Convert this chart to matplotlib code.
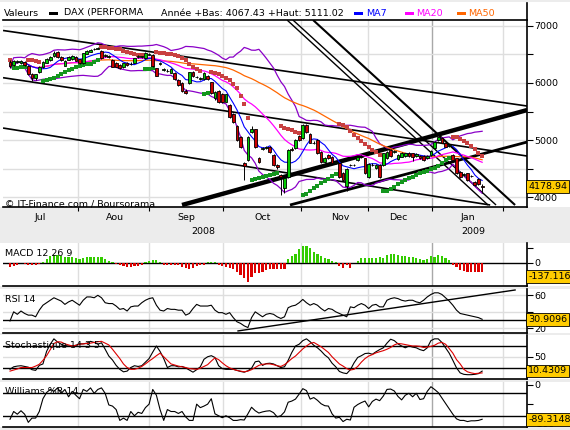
import numpy as np
import pandas as pd
import matplotlib
matplotlib.use('Agg')
import matplotlib.pyplot as plt
from matplotlib.patches import Rectangle
from matplotlib.lines import Line2D
import matplotlib.transforms as mtrans

# ---- DAX daily candles (jul 2008 - jan 2009) ----
opn = [6374, 6316, 6370, 6345, 6374, 6304, 6152, 6094, 6187, 6275,
       6357, 6404, 6474, 6550, 6450, 6304, 6404, 6415, 6462, 6415,
       6345, 6509, 6550, 6595, 6605, 6567, 6478, 6458, 6404, 6345,
       6316, 6275, 6357, 6325, 6357, 6458, 6460, 6433, 6498, 6491,
       6257, 6338, 6233, 6208, 6181, 6181, 6053, 5994, 5866, 5994,
       6199, 6098, 6078, 6065, 6129, 6012, 5731, 5866, 5807, 5673,
       5614, 5456, 5240, 5059, 4591, 4649, 5146, 5187, 4680, 4848,
       4854, 4883, 4737, 4562, 4380, 4150, 4345, 4840, 4854, 5070,
       5029, 5264, 5100, 4948, 5000, 4796, 4620, 4737, 4708, 4598,
       4591, 4420, 4200, 4558, 4558, 4649, 4698, 4679, 4357, 4560,
       4515, 4562, 4562, 4679, 4825, 4794, 4661, 4708, 4720, 4778,
       4766, 4720, 4720, 4720, 4679, 4737, 4854, 4999, 5029, 4942,
       4898, 4737, 4679, 4445, 4388, 4415, 4367, 4269, 4310, 4195]
close = [6290, 6392, 6385, 6392, 6316, 6158, 6082, 6152, 6275, 6374,
         6421, 6450, 6532, 6450, 6404, 6392, 6462, 6474, 6392, 6345,
         6521, 6567, 6579, 6602, 6612, 6433, 6484, 6464, 6287, 6287,
         6257, 6345, 6316, 6332, 6433, 6462, 6464, 6521, 6502, 6298,
         6129, 6342, 6237, 6212, 6240, 6065, 5965, 5866, 5830, 6187,
         6123, 6102, 6082, 6170, 6065, 5819, 5848, 5673, 5667, 5801,
         5398, 5322, 5000, 4883, 4550, 5059, 5199, 4883, 4620, 4852,
         4883, 4790, 4562, 4520, 4345, 4330, 4825, 4830, 4995, 5000,
         5260, 5146, 4953, 4952, 4766, 4620, 4680, 4679, 4591, 4602,
         4357, 4300, 4500, 4562, 4562, 4708, 4702, 4415, 4579, 4564,
         4562, 4357, 4766, 4796, 4720, 4798, 4737, 4778, 4766, 4720,
         4708, 4750, 4679, 4650, 4720, 4813, 4971, 5047, 4953, 4883,
         4902, 4649, 4427, 4357, 4392, 4298, 4371, 4211, 4228, 4179]
high = [6400, 6410, 6400, 6405, 6390, 6320, 6170, 6165, 6290, 6385,
        6435, 6465, 6560, 6560, 6470, 6400, 6475, 6490, 6480, 6425,
        6530, 6580, 6590, 6620, 6625, 6580, 6510, 6490, 6415, 6360,
        6330, 6355, 6370, 6360, 6445, 6490, 6480, 6535, 6525, 6505,
        6270, 6360, 6260, 6240, 6255, 6195, 6065, 6010, 5890, 6200,
        6215, 6130, 6110, 6185, 6140, 6025, 5865, 5880, 5830, 5815,
        5630, 5470, 5260, 5075, 4620, 5075, 5240, 5200, 4700, 4880,
        4900, 4900, 4750, 4580, 4400, 4345, 4840, 4870, 5010, 5085,
        5275, 5280, 5115, 4980, 5015, 4810, 4695, 4750, 4720, 4630,
        4605, 4435, 4515, 4585, 4580, 4720, 4730, 4690, 4595, 4590,
        4575, 4575, 4780, 4810, 4840, 4820, 4750, 4790, 4780, 4790,
        4780, 4765, 4735, 4735, 4735, 4825, 4985, 5060, 5045, 4955,
        4930, 4750, 4690, 4460, 4415, 4430, 4395, 4285, 4325, 4230]
low = [6270, 6300, 6350, 6330, 6300, 6140, 6040, 6060, 6170, 6260,
       6345, 6390, 6460, 6440, 6390, 6290, 6395, 6405, 6380, 6330,
       6340, 6500, 6540, 6580, 6590, 6420, 6460, 6440, 6275, 6275,
       6245, 6265, 6300, 6310, 6345, 6440, 6430, 6420, 6485, 6285,
       6115, 6320, 6215, 6190, 6170, 6050, 5950, 5850, 5810, 5980,
       6110, 6080, 6060, 6050, 6050, 5800, 5710, 5655, 5650, 5660,
       5380, 5300, 4980, 4860, 4300, 4630, 5120, 4860, 4600, 4830,
       4840, 4770, 4540, 4500, 4035, 4070, 4330, 4800, 4840, 4985,
       5015, 5130, 4940, 4930, 4750, 4600, 4605, 4660, 4575, 4580,
       4340, 4285, 4100, 4540, 4540, 4635, 4680, 4400, 4340, 4540,
       4500, 4340, 4550, 4665, 4705, 4775, 4645, 4695, 4705, 4705,
       4625, 4705, 4665, 4635, 4665, 4720, 4840, 4985, 4940, 4870,
       4880, 4635, 4410, 4340, 4370, 4280, 4350, 4195, 4210, 4067]

# ---- indicator panels ----
macd_hist = [-40, -30, -25, -5, -10, -20, -20, -20, -15, 10,
             40, 70, 84, 84, 70, 62, 59, 59, 55, 42,
             52, 59, 59, 59, 59, 58, 45, 22, 11, -10,
             -22, -31, -37, -37, -29, -26, -22, 5, 22, 29,
             26, 11, -18, -22, -25, -25, -25, -37, -48, -60,
             -50, -33, -25, -20, 5, 11, 10, -22, -33, -37,
             -48, -62, -95, -125, -155, -190, -140, -106, -106, -95,
             -70, -62, -62, -62, -62, -62, 40, 66, 95, 140,
             175, 168, 150, 115, 90, 70, 48, 40, 25, 5,
             -33, -48, -25, -55, -5, 18, 51, 53, 51, 51,
             55, 62, 55, 77, 92, 92, 84, 70, 66, 62,
             62, 51, 40, 33, 40, 70, 59, 80, 70, 55,
             30, -18, -40, -70, -80, -88, -95, -95, -88, -88]
rsi = [29, 40, 37, 41, 38, 36, 36, 34, 42, 48,
       51, 54, 57, 55, 53, 49, 52, 54, 51, 48,
       54, 58, 58, 57, 60, 57, 51, 50, 50, 47,
       43, 44, 41, 46, 47, 47, 51, 54, 56, 57,
       48, 42, 41, 44, 43, 43, 42, 42, 36, 38,
       44, 49, 47, 47, 47, 48, 42, 39, 39, 37,
       39, 33, 28, 26, 23, 21, 33, 40, 37, 34,
       37, 38, 37, 34, 32, 34, 45, 47, 48, 51,
       55, 51, 48, 50, 48, 44, 41, 44, 43, 40,
       38, 36, 34, 46, 45, 48, 50, 48, 44, 48,
       49, 46, 46, 54, 56, 57, 56, 54, 53, 54,
       54, 52, 51, 54, 58, 61, 63, 63, 61, 57,
       53, 48, 42, 38, 37, 36, 35, 34, 33, 31]
stoch_k = [15, 22, 24, 25, 23, 21, 14, 12, 26, 30,
           65, 85, 100, 91, 85, 81, 80, 80, 82, 86,
           86, 88, 93, 90, 85, 89, 71, 52, 41, 26,
           15, 8, 10, 20, 25, 23, 25, 35, 45, 63,
           80, 65, 45, 20, 25, 25, 22, 23, 19, 13,
           7, 14, 22, 43, 50, 53, 48, 25, 17, 15,
           15, 15, 12, 9, 7, 11, 18, 36, 38, 26,
           31, 32, 30, 25, 20, 22, 40, 62, 80, 85,
           95, 100, 92, 82, 75, 66, 55, 47, 32, 22,
           9, 5, 3, 14, 33, 48, 53, 59, 60, 57,
           64, 70, 75, 88, 99, 95, 86, 80, 75, 80,
           77, 75, 70, 67, 75, 95, 100, 100, 90, 75,
           60, 40, 19, 5, 1, 0, 0, 1, 3, 10]
stoch_d = [10, 13, 16, 20, 20, 20, 20, 24, 29, 40,
           53, 70, 87, 92, 91, 86, 83, 80, 82, 85,
           86, 87, 88, 90, 92, 93, 88, 83, 71, 58,
           45, 30, 20, 15, 15, 18, 23, 30, 38, 45,
           53, 60, 50, 40, 30, 27, 24, 22, 20, 17,
           16, 15, 18, 23, 28, 38, 47, 42, 33, 25,
           19, 15, 12, 10, 8, 10, 14, 20, 26, 29,
           30, 30, 28, 25, 23, 28, 36, 45, 52, 62,
           72, 80, 87, 90, 84, 78, 70, 62, 50, 40,
           30, 24, 17, 13, 15, 23, 35, 45, 52, 56,
           61, 64, 67, 71, 76, 83, 87, 86, 84, 82,
           80, 80, 79, 76, 77, 79, 82, 88, 90, 85,
           73, 60, 42, 30, 15, 8, 5, 3, 4, 5]
williams = [-89, -69, -76, -67, -76, -97, -86, -86, -69, -36,
            -20, -12, -17, -8, -22, -12, -31, -17, -27, -36,
            -12, -17, -8, -22, -12, -8, -22, -52, -55, -64,
            -92, -86, -92, -69, -80, -71, -74, -59, -50, -12,
            -27, -64, -92, -64, -69, -69, -74, -69, -83, -92,
            -92, -50, -59, -55, -50, -36, -75, -80, -85, -80,
            -85, -92, -92, -90, -91, -75, -58, -67, -73, -70,
            -68, -67, -72, -83, -80, -70, -45, -42, -37, -24,
            -10, -15, -37, -33, -40, -49, -54, -55, -75, -86,
            -84, -95, -89, -91, -58, -51, -46, -42, -57, -43,
            -37, -41, -29, -12, -11, -16, -30, -39, -27, -22,
            -31, -22, -38, -36, -17, -5, -12, -20, -34, -48,
            -62, -76, -88, -92, -92, -95, -93, -93, -92, -89]

months = ['Jul', 'Aou', 'Sep', 'Oct', 'Nov', 'Dec', 'Jan']
years = ['2008', '2009']
last_labels = ['4178.94', '-137.116', '30.9096', '10.4309', '-89.3148']

# hand drawn trend lines (bar index, price)
trend_main = [((-1.9, 6921), (141.3, 5596), 1.2),
              ((-1.9, 6093), (141.3, 4719), 1.2),
              ((-1.9, 5210), (131.2, 3860), 1.2),
              ((47.0, 3860), (141.3, 5526), 3.2),
              ((76.5, 3860), (141.3, 4965), 2.0),
              ((75.7, 7105), (130.6, 3860), 1.0),
              ((77.3, 7105), (132.8, 3860), 1.0),
              ((82.8, 7105), (138.0, 3860), 1.5)]
trend_rsi = ((62.3, 16.9), (138.0, 66.4))

# layout helpers (pixel positions of the original picture)
W, H = 570, 430
X0 = 10.0
DX = 3.66
FS = 6.8
def ix(px):
  return (px - X0) / DX

grid_px = [78, 149, 223, 301, 368, 432, 503]
month_px = [40, 115, 186, 263, 340, 398, 468]
year_px = [203, 473]
grid_x = [ix(p) for p in grid_px]
xlim = (ix(3), ix(527))

o = np.array(opn, float); c = np.array(close, float)
h = np.array(high, float); l = np.array(low, float)
n = len(c)
x = np.arange(n)
cs = pd.Series(c)

ma7 = cs.rolling(7, min_periods=1).mean()
ma20 = cs.rolling(20, min_periods=1).mean()
ma50 = cs.rolling(50, min_periods=1).mean()
sd20 = cs.rolling(20, min_periods=1).std(ddof=0)
bb_up = ma20 + 2 * sd20
bb_dn = ma20 - 2 * sd20

# parabolic SAR
sar = np.zeros(n); bull = np.zeros(n, bool)
up = False; af = 0.02; ep = l[0]; sar[0] = h[0]
for i in range(1, n):
  s = sar[i-1] + af * (ep - sar[i-1])
  if up:
    s = min(s, l[i-1], l[max(i-2, 0)])
    if l[i] < s:
      up = False; s = ep; ep = l[i]; af = 0.02
    elif h[i] > ep:
      ep = h[i]; af = min(af + 0.02, 0.2)
  else:
    s = max(s, h[i-1], h[max(i-2, 0)])
    if h[i] > s:
      up = True; s = ep; ep = h[i]; af = 0.02
    elif l[i] < ep:
      ep = l[i]; af = min(af + 0.02, 0.2)
  sar[i] = s; bull[i] = up

hist = np.array(macd_hist, float)

# ---- figure ----
BG = '#ececec'
plt.rcParams['font.family'] = 'DejaVu Sans'
fig = plt.figure(figsize=(W/100, H/100), dpi=100, facecolor=BG)

def white_band(top, bottom):
  fig.patches.append(Rectangle((0, 1 - bottom/H), 1, (bottom - top)/H, transform=fig.transFigure,
                               fc='white', ec='none', zorder=-5))

def add_panel(top, bottom):
  white_band(top, bottom)
  ax = fig.add_axes([3/W, 1 - bottom/H, 524/W, (bottom - top)/H])
  ax.set_facecolor('white')
  ax.set_xlim(*xlim)
  for s in ['left', 'top']:
    ax.spines[s].set_visible(False)
  for s in ['right', 'bottom']:
    ax.spines[s].set_color('black'); ax.spines[s].set_linewidth(1.2)
  ax.yaxis.tick_right()
  ax.tick_params(axis='y', direction='out', length=4, width=0.8, labelsize=FS, pad=1)
  ax.set_xticks([])
  for gx, px in zip(grid_x, grid_px):
    col = '#a8a8a8' if px == 432 else '#dedede'
    ax.axvline(gx, color=col, lw=1, zorder=0)
  return ax

# legend row background
white_band(2, 20)

# main price panel
ax = add_panel(20, 207)
ax.spines['top'].set_visible(True); ax.spines['top'].set_linewidth(1.2)
ax.set_ylim(3825, 7105)
ax.set_yticks([4000, 5000, 6000, 7000])
ax.set_yticks([4500, 5500, 6500], minor=True)
ax.tick_params(axis='y', which='minor', direction='out', length=4, width=0.8)
ax.set_yticklabels(['4000', '5000', '6000', '7000'])
for v in np.arange(4000, 7001, 500):
  ax.axhline(v, color='#dedede', lw=1, zorder=0)
ax.set_xticks(grid_x)
ax.tick_params(axis='x', direction='out', length=3, width=0.8, labelbottom=False)

for (p0, p1, lw) in trend_main:
  ax.plot([p0[0], p1[0]], [p0[1], p1[1]], color='black', lw=lw, zorder=2, solid_capstyle='butt')

ax.plot(x, bb_up, color='#8a00c8', lw=0.9, zorder=3)
ax.plot(x, bb_dn, color='#8a00c8', lw=0.9, zorder=3)
ax.plot(x, ma50, color='#ff6600', lw=0.9, zorder=3)
ax.plot(x, ma20, color='#ff00ff', lw=0.9, zorder=3)
ax.plot(x, ma7, color='#0000ff', lw=0.8, zorder=3)

ax.plot(x[~bull], sar[~bull], 's', color='#c84040', ms=3.0, mew=0, zorder=4)
ax.plot(x[bull], sar[bull], 's', color='#14961e', ms=3.0, mew=0, zorder=4)

ax.vlines(x, l, h, color='black', lw=0.7, zorder=5)
body_lo = np.minimum(o, c)
body_h = np.maximum(np.abs(c - o), 8)
cols = np.where(c >= o, '#00cc00', '#cc0000')
ax.bar(x, body_h, bottom=body_lo, width=0.75, color=cols, edgecolor='black', lw=0.6, zorder=6)

ax.text(ix(5), 3880, '\u00a9 IT-Finance.com / Boursorama', fontsize=FS, ha='left', va='center', zorder=7)
ax.text(1.002, c[-1], last_labels[0], transform=mtrans.blended_transform_factory(ax.transAxes, ax.transData),
        fontsize=FS, ha='left', va='center',
        bbox=dict(boxstyle='square,pad=0.2', fc='#ffcc00', ec='black', lw=0.6))

# month / year labels
for m, px in zip(months, month_px):
  fig.text(px/W, 1 - 217/H, m, fontsize=FS, ha='center', va='center')
for yv, px in zip(years, year_px):
  fig.text(px/W, 1 - 231/H, yv, fontsize=FS, ha='center', va='center')

# legend row
fig.lines.append(Line2D([527/W, 527/W], [1 - 3/H, 1 - 20/H], transform=fig.transFigure, color='black', lw=1.2))
fig.text(4/W, 1 - 13/H, 'Valeurs', fontsize=FS, va='center')
leg = [(49, 'black', 64, 'DAX (PERFORMA', 'black'), (354, '#0000ff', 366, 'MA7', '#0000ff'),
       (405, '#ff00ff', 416, 'MA20', '#ff00ff'), (457, '#ff6600', 468, 'MA50', '#ff6600')]
for px, col, tx, txt, tcol in leg:
  fig.patches.append(Rectangle((px/W, 1 - 15/H), 9/W, 3.5/H, transform=fig.transFigure, fc=col, ec='none'))
  fig.text(tx/W, 1 - 13/H, txt, fontsize=FS, va='center', color=tcol)
fig.text(161/W, 1 - 13/H, 'Ann\u00e9e +Bas: 4067.43 +Haut: 5111.02', fontsize=FS, va='center')

def label_box(a, val, txt):
  a.text(1.002, val, txt, transform=mtrans.blended_transform_factory(a.transAxes, a.transData),
         fontsize=FS, ha='left', va='center', zorder=10, clip_on=False,
         bbox=dict(boxstyle='square,pad=0.2', fc='#ffcc00', ec='black', lw=0.6))

# MACD
a1 = add_panel(243, 286)
a1.set_ylim(-234, 203)
a1.set_yticks([-150, 0, 150]); a1.set_yticklabels(['', '0', ''])
a1.axhline(0, color='black', lw=1, zorder=2)
a1.bar(x, hist, width=0.6, color=np.where(hist >= 0, '#33cc00', '#dd0000'), lw=0, zorder=3)
a1.text(0.003, 0.75, 'MACD 12 26 9', transform=a1.transAxes, fontsize=FS, va='center')
label_box(a1, -137, last_labels[1])

# RSI
a2 = add_panel(289, 333)
a2.set_ylim(14.4, 67.6)
a2.set_yticks([20, 40, 60]); a2.set_yticklabels(['20', '', '60'])
for v in [20, 40, 60]:
  a2.axhline(v, color='#dedede', lw=1, zorder=0)
a2.axhline(30, color='black', lw=1, zorder=2)
a2.plot([trend_rsi[0][0], trend_rsi[1][0]], [trend_rsi[0][1], trend_rsi[1][1]], color='black', lw=1, zorder=2)
a2.plot(x, rsi, color='black', lw=0.8, zorder=3)
a2.text(0.003, 0.75, 'RSI 14', transform=a2.transAxes, fontsize=FS, va='center')
label_box(a2, 30.9, last_labels[2])

# Stochastic
a3 = add_panel(335, 379)
a3.set_ylim(-12, 110.7)
a3.set_yticks([50]); a3.set_yticklabels(['50'])
a3.axhline(50, color='#dedede', lw=1, zorder=0)
for v in [20, 80]:
  a3.axhline(v, color='black', lw=1, zorder=2)
a3.plot(x, stoch_k, color='black', lw=0.8, zorder=3)
a3.plot(x, stoch_d, color='#dd0000', lw=0.8, zorder=3)
a3.text(0.003, 0.75, 'Stochastique 14 3 5', transform=a3.transAxes, fontsize=FS, va='center')
label_box(a3, 10.4, last_labels[3])

# Williams %R
a4 = add_panel(382, 427)
a4.set_ylim(-109, 7.2)
a4.set_yticks([-100, -50, 0]); a4.set_yticklabels(['-100', '', '0'])
for v in [-20, -80]:
  a4.axhline(v, color='black', lw=1, zorder=2)
a4.plot(x, williams, color='black', lw=0.8, zorder=3)
a4.text(0.003, 0.78, 'Williams %R 14', transform=a4.transAxes, fontsize=FS, va='center')
label_box(a4, -89.3, last_labels[4])

fig.savefig('out.png', dpi=100, facecolor=BG)
